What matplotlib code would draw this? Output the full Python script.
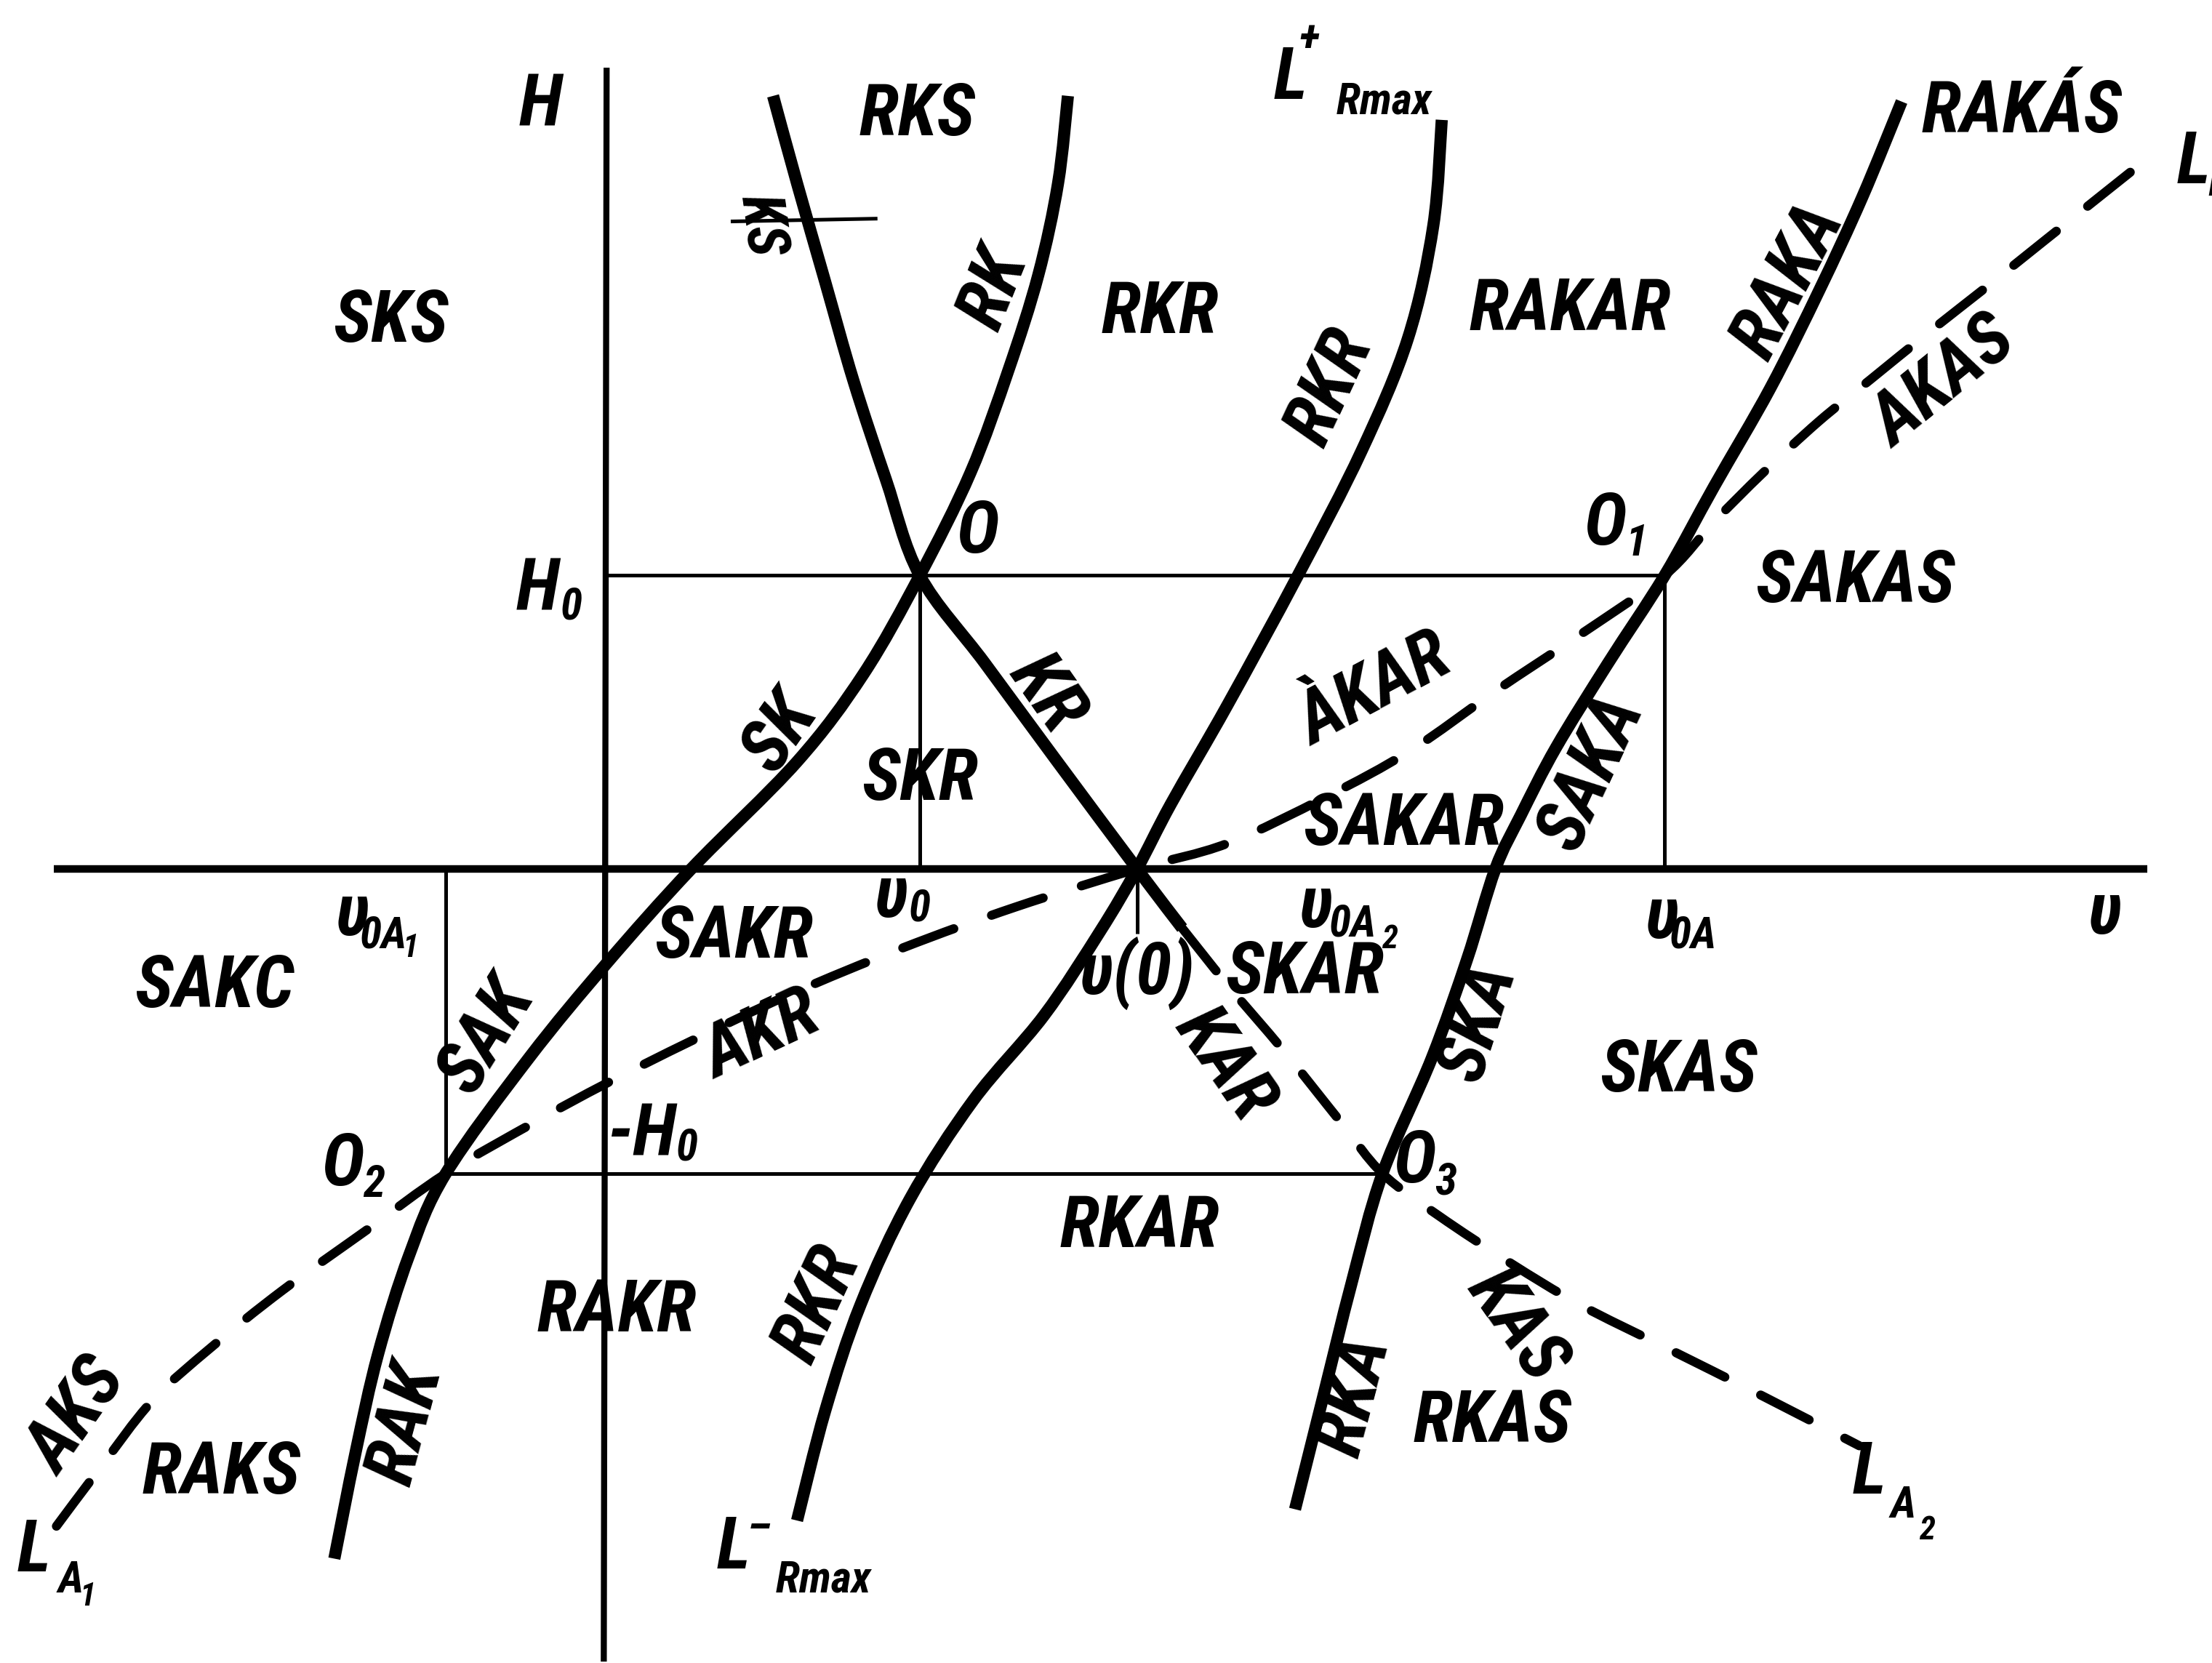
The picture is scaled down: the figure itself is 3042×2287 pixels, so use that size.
import matplotlib
matplotlib.use("Agg")
import matplotlib.pyplot as plt
from matplotlib import font_manager as fm
from matplotlib.path import Path
from matplotlib.patches import PathPatch

# diagram units: x grows to the right (v), y grows downward (page units)
W, H = 1568, 1179

# axes and guide lines
v_axis = [(38, 616), (1522, 616)]
h_axis = [(430, 48), (428, 1178)]
guides = [
    [(430, 408), (1180, 408)],      # H0
    [(652, 408), (652, 616)],       # v0
    [(1180, 408), (1180, 616)],     # v0A
    [(316, 616), (316, 832)],       # v0A1
    [(316, 832), (980, 832)],       # -H0
    [(806, 616), (806, 662)],       # v(0)
    [(518, 157), (622, 155)],       # KS tick
]

# boundary curves (solid)
curve_ks_kr_x = [548, 565, 585, 605, 628, 652, 698, 748, 806, 838]
curve_ks_kr_y = [68, 130, 200, 270, 340, 408, 470, 538, 616, 658]

curve_rk_sk_x = [757, 750, 736, 715, 688, 652, 612, 565, 490, 430, 375, 316, 290, 268, 252, 237]
curve_rk_sk_y = [68, 130, 195, 262, 335, 408, 478, 540, 616, 683, 750, 832, 890, 960, 1030, 1105]

curve_lr_x = [1022, 1016, 998, 965, 920, 870, 830, 806, 780, 740, 690, 645, 610, 585, 565]
curve_lr_y = [85, 160, 240, 320, 408, 500, 570, 616, 660, 720, 780, 850, 925, 1000, 1078]

curve_raka_x = [1348, 1320, 1290, 1255, 1215, 1180, 1140, 1103, 1078, 1060, 1040, 1015, 980, 958, 938, 918]
curve_raka_y = [72, 140, 205, 275, 345, 408, 470, 530, 578, 616, 680, 750, 832, 910, 990, 1070]

# dashed lines
dash_la2_x = [838, 870, 910, 950, 980, 1020, 1070, 1120, 1180, 1250, 1318]
dash_la2_y = [658, 698, 745, 795, 832, 862, 895, 925, 955, 990, 1025]

dash_la1_x = [40, 70, 108, 150, 200, 260, 316, 380, 430, 490, 560, 640, 720, 806,
              870, 940, 1000, 1060, 1120, 1180, 1215, 1250, 1289, 1326, 1368, 1410, 1450, 1524]
dash_la1_y = [1082, 1042, 993, 955, 915, 872, 832, 795, 768, 738, 705, 672, 643, 616,
              598, 565, 532, 490, 450, 408, 370, 335, 299, 269, 235, 202, 170, 111]

# region / boundary names: text, x, y, rotation
labels = [
    ("H", 383, 75, 0), ("RKS", 650, 82, 0), ("RAKÁS", 1433, 80, 0),
    ("SKS", 277, 228, 0), ("RKR", 822, 222, 0), ("RAKAR", 1113, 220, 0),
    ("RK", 705, 205, 68), ("RKR", 943, 275, 65), ("RAKA", 1268, 200, 62),
    ("AKAS", 1378, 272, 39), ("O", 693, 378, 0), ("SAKAS", 1315, 413, 0),
    ("KR", 742, 492, -55), ("SK", 553, 520, 55), ("SKR", 652, 553, 0),
    ("ÀKAR", 975, 490, 28), ("SAKAR", 995, 585, 0), ("SAKA", 1128, 548, 65),
    ("υ", 1492, 648, 0), ("SAKC", 152, 700, 0), ("SAKR", 520, 665, 0),
    ("υ(0)", 806, 690, 0), ("SKAR", 925, 690, 0), ("SAK", 345, 735, 58),
    ("AKR", 540, 735, 25), ("KAR", 868, 755, -55), ("SKA", 1048, 725, 72),
    ("SKAS", 1190, 760, 0), ("RKAR", 808, 870, 0), ("RAKR", 437, 930, 0),
    ("RKR", 580, 925, 65), ("KAS", 1075, 940, -55), ("AKS", 55, 1005, 55),
    ("RAKS", 157, 1045, 0), ("RAK", 288, 1010, 75), ("RKA", 960, 990, 75),
    ("RKAS", 1058, 1008, 0),
]
small_labels = [("KS", 540, 160, -82)]

# symbols with indices: base, x, y, index, dx, dy
indexed = [
    ("O", 1138, 372, "1", 22, 13), ("H", 381, 418, "0", 24, 12),
    ("υ", 250, 649, "0A", 22, 14), ("υ", 632, 636, "0", 20, 8),
    ("υ", 933, 643, "0A", 26, 12), ("υ", 1178, 651, "0A", 22, 12),
    ("-H", 455, 805, "0", 32, 9), ("O", 243, 826, "2", 22, 14),
    ("O", 1003, 824, "3", 22, 14), ("L", 24, 1100, "A", 26, 20),
    ("L", 1325, 1045, "A", 24, 22), ("L", 1555, 116, "I", 14, 14),
    ("L", 915, 56, "Rmax", 66, 16), ("L", 520, 1098, "Rmax", 64, 22),
]
sub_sub = [("1", 291, 672), ("2", 985, 666), ("1", 62, 1132), ("2", 1366, 1085)]
superscripts = [("+", 928, 28), ("–", 538, 1084)]


def pick_font():
    # prefer a condensed bold italic face, the lettering is tall and narrow
    keys = ("Narrow", "Condensed", "Cond")
    found = []
    for f in fm.fontManager.ttflist:
        name = f.fname.split("/")[-1]
        if not any(k in name for k in keys) or "Extra" in name or "Semi" in name:
            continue
        if "Mono" in name or "Serif" in name:
            continue
        score = 0
        if f.style in ("italic", "oblique"):
            score += 2
        if f.weight in ("bold", 700) or "Bold" in name:
            score += 2
        if "Black" in name or "Light" in name or "Thin" in name:
            score -= 3
        found.append((score, name, f.fname))
    if found:
        found.sort(reverse=True)
        return fm.FontProperties(fname=found[0][2]), True
    return fm.FontProperties(family=["Liberation Sans", "DejaVu Sans"],
                             style="italic", weight="bold"), False


def smooth(xs, ys):
    # Catmull-Rom through the given points, as cubic Bezier segments
    pts = list(zip(xs, ys))
    verts = [pts[0]]
    codes = [Path.MOVETO]
    n = len(pts)
    for i in range(n - 1):
        p0 = pts[max(i - 1, 0)]
        p1 = pts[i]
        p2 = pts[i + 1]
        p3 = pts[min(i + 2, n - 1)]
        c1 = (p1[0] + (p2[0] - p0[0]) / 6, p1[1] + (p2[1] - p0[1]) / 6)
        c2 = (p2[0] - (p3[0] - p1[0]) / 6, p2[1] - (p3[1] - p1[1]) / 6)
        verts += [c1, c2, p2]
        codes += [Path.CURVE4] * 3
    return Path(verts, codes)


fp, narrow = pick_font()
k = 1.0 if narrow else 0.85
big = 72 * k
mid = 44 * k
sml = 32 * k

fig = plt.figure(figsize=(30.42, 22.87), dpi=100)
ax = fig.add_axes([0, 0, 1, 1])
ax.set_xlim(0, W)
ax.set_ylim(H, 0)
ax.axis("off")

for seg, lw in ((v_axis, 7.5), (h_axis, 6.0)):
    ax.plot([p[0] for p in seg], [p[1] for p in seg], color="black", lw=lw, solid_capstyle="butt")
for seg in guides:
    ax.plot([p[0] for p in seg], [p[1] for p in seg], color="black", lw=3.6, solid_capstyle="butt")

for xs, ys in ((curve_ks_kr_x, curve_ks_kr_y), (curve_rk_sk_x, curve_rk_sk_y),
               (curve_lr_x, curve_lr_y), (curve_raka_x, curve_raka_y)):
    ax.add_patch(PathPatch(smooth(xs, ys), fill=False, lw=12, edgecolor="black",
                           capstyle="butt", joinstyle="round"))

for xs, ys in ((dash_la2_x, dash_la2_y), (dash_la1_x, dash_la1_y)):
    ax.add_patch(PathPatch(smooth(xs, ys), fill=False, lw=9, edgecolor="black",
                           linestyle=(0, (6.0, 4.4)), capstyle="round"))


def put(x, y, s, size, rot=0):
    p = fp.copy()
    p.set_size(size)
    ax.text(x, y, s, fontproperties=p, rotation=rot, color="black",
            ha="center", va="center", rotation_mode="anchor")


for s, x, y, r in labels:
    put(x, y, s, big, r)
for s, x, y, r in small_labels:
    put(x, y, s, 58 * k, r)
for base, x, y, idx, dx, dy in indexed:
    put(x, y, base, big)
    put(x + dx, y + dy, idx, mid)
for s, x, y in sub_sub:
    put(x, y, s, sml)
for s, x, y in superscripts:
    put(x, y, s, mid)

fig.savefig("out.png", dpi=100, facecolor="white")
